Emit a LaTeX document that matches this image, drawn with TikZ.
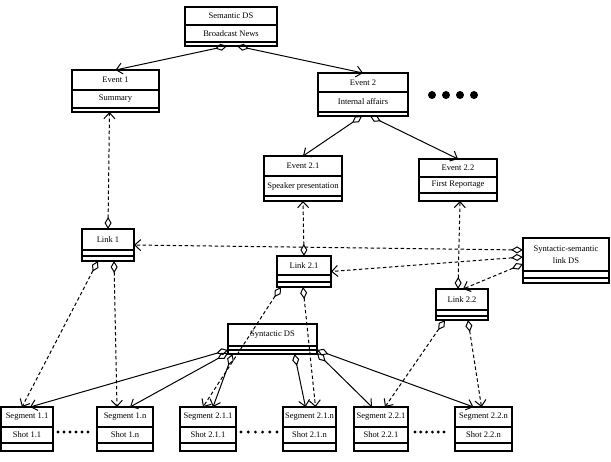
\documentclass[tikz,border=0pt]{standalone}
\usepackage{fontspec}
\setmainfont{Liberation Serif}
\usetikzlibrary{arrows.meta}
\tikzset{
  umlframe/.style={draw, line width=1.3pt, fill=white, inner sep=0pt, outer sep=0pt, rectangle},
  umlrule/.style={line width=1.3pt},
  umltext/.style={inner sep=0pt, font=\fontsize{8.5}{11.5}\selectfont, align=center},
  agg/.style={line width=1pt, {Diamond[open,length=12pt,width=7pt]}-{Straight Barb[length=6pt,width=11pt]}},
  dagg/.style={agg, dash pattern=on 3.5pt off 2.5pt},
}
\newcommand\umlbox[9]{%
  \node[umlframe, minimum width={(#4-#2)*1pt}, minimum height={(#5-#3)*1pt}, anchor=north west] (#1) at (#2,#3) {};
  \draw[umlrule] (#2,#6) -- (#4,#6);
  \draw[umlrule] (#2,#7) -- (#4,#7);
  \node[umltext] (#1-a) at ({(#2+#4)/2},{(#3+#6)/2}) {#8};
  \node[umltext] (#1-b) at ({(#2+#4)/2},{(#6+#7)/2}) {#9};
}
\begin{document}
\begin{tikzpicture}[x=1pt,y=-1pt]
\useasboundingbox (0,0) rectangle (611,461);
% boxes
\umlbox{sem}{185}{7}{277}{46}{25}{42}{Semantic DS}{Broadcast News}
\umlbox{e1}{72}{70}{159}{112}{90}{108}{Event 1}{Summary}
\umlbox{e2}{318}{73}{408}{116}{92}{112}{Event 2}{Internal affairs}
\umlbox{e21}{264}{156}{342}{201}{176}{196}{Event 2.1}{Speaker presentation}
\umlbox{e22}{419}{159}{497}{201}{177}{193}{Event 2.2}{First Reportage}
\umlbox{l1}{82}{229}{134}{261}{250}{256}{Link 1}{}
\umlbox{l21}{277}{256}{331}{287}{275}{282}{Link 2.1}{}
\umlbox{l22}{436}{289}{488}{320}{310}{316}{Link 2.2}{}
\umlbox{ssl}{523}{238}{609}{283}{271}{278}{Syntactic-semantic\\link DS}{}
\umlbox{syn}{228}{324}{317}{354}{346}{350}{Syntactic DS}{}
\umlbox{s11}{1}{407}{53}{451}{427}{443}{Segment 1.1}{Shot 1.1}
\umlbox{s1n}{97}{407}{153}{451}{427}{443}{Segment 1.n}{Shot 1.n}
\umlbox{s211}{180}{407}{236}{451}{427}{443}{Segment 2.1.1}{Shot 2.1.1}
\umlbox{s21n}{283}{407}{336}{451}{427}{443}{Segment 2.1.n}{Shot 2.1.n}
\umlbox{s221}{354}{407}{408}{451}{427}{443}{Segment 2.2.1}{Shot 2.2.1}
\umlbox{s22n}{455}{407}{512}{451}{427}{443}{Segment 2.2.n}{Shot 2.2.n}
% semantic hierarchy
\draw[agg] ([xshift=-4pt]sem.south) -- (e1.north);
\draw[agg] ([xshift=6pt]sem.south) -- (e2.north);
\draw[agg] ([xshift=-1pt]e2.south) -- (e21.north);
\draw[agg] ([xshift=7pt]e2.south) -- (e22.north);
% links to events
\draw[dagg] (l1.north) -- ([xshift=-6pt]e1.south);
\draw[dagg] (l21.north) -- (e21.south);
\draw[dagg] ([xshift=-4pt]l22.north) -- ([xshift=2pt]e22.south);
% syntactic-semantic link DS
\draw[dagg] ([yshift=10.5pt]ssl.west) -- (l1.east);
\draw[dagg] ([yshift=3.5pt]ssl.west) -- (l21.east);
\draw[dagg] ([yshift=-3.5pt]ssl.west) -- ([xshift=1pt]l22.north);
% links to segments
\draw[dagg] ([xshift=-10pt]l1.south) -- ([xshift=-5pt]s11.north);
\draw[dagg] ([xshift=6pt]l1.south) -- ([xshift=-8pt]s1n.north);
\draw[dagg] ([xshift=-23pt]l21.south) -- ([xshift=-5pt]s211.north);
\draw[dagg] ([xshift=-1pt]l21.south) -- ([xshift=6pt]s21n.north);
\draw[dagg] ([xshift=-17pt]l22.south) -- ([xshift=4pt]s221.north);
\draw[dagg] ([xshift=6pt]l22.south) -- ([xshift=-2pt]s22n.north);
% syntactic DS to segments
\draw[agg] ([yshift=-11pt]syn.west) -- ([xshift=3pt]s11.north);
\draw[agg] ([yshift=1pt]syn.south west) -- ([xshift=5pt]s1n.north);
\draw[agg] ([xshift=-40pt]syn.south) -- ([xshift=5pt]s211.north);
\draw[agg] ([xshift=22pt]syn.south) -- ([xshift=-4pt]s21n.north);
\draw[agg] ([yshift=1pt]syn.south east) -- ([xshift=-9pt]s221.north);
\draw[agg] ([yshift=-11pt]syn.east) -- ([xshift=-10pt]s22n.north);
% ellipses
\foreach \i in {0,...,3} \fill ({432+14*\i},95) circle (4pt);
\foreach \i in {0,...,5} {
  \fill ({58+6*\i},432) circle (1.6pt);
  \fill ({241+7.2*\i},432) circle (1.6pt);
  \fill ({415+5.8*\i},432) circle (1.6pt);
}
\end{tikzpicture}
\end{document}
